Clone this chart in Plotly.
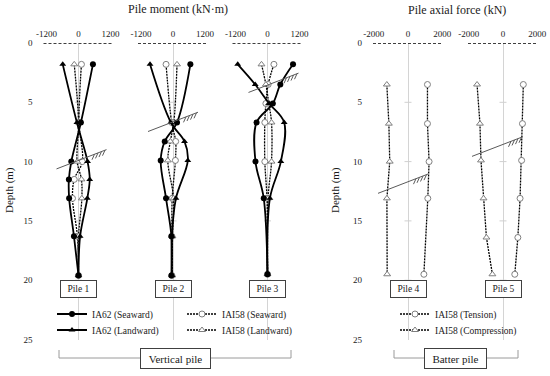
import plotly.graph_objects as go

# ---------------- data ----------------
moment_ticks = [-1200, 0, 1200]
moment_tick_text = ["-1200", "0", "1200"]
axial_ticks = [-2000, 0, 2000]
axial_tick_text = ["-2000", "0", "2000"]
depth_ticks = [0, 5, 10, 15, 20, 25]
depth_minor_ticks = [5, 10, 15, 20]

pile1_depth = [1.8, 6.7, 10.0, 11.5, 13.1, 16.3, 19.6]
pile1_ia62_sea = [540, 90, -270, -360, -350, -170, 0]
pile1_ia62_land = [-590, -60, 340, 420, 330, 60, 0]
pile1_iai58_sea = [110, 20, 140, -160, -225, -40, 0]
pile1_iai58_land = [-160, 0, -50, 110, 125, 0, 0]

pile2_depth = [1.8, 6.7, 8.3, 9.9, 13.1, 16.3, 19.6]
pile2_ia62_sea = [650, 150, -310, -460, -260, -60, -60]
pile2_ia62_land = [-860, -80, 430, 555, 110, -40, -40]
pile2_iai58_sea = [-260, -50, 100, 90, -30, -40, -40]
pile2_iai58_land = [150, 30, -100, -195, 20, -20, -30]

pile3_depth = [1.8, 3.5, 5.1, 6.7, 10.0, 13.1, 19.5]
pile3_ia62_sea = [955, 480, 200, -410, -450, -140, 0]
pile3_ia62_land = [-1115, -460, 60, 625, 500, 90, 0]
pile3_iai58_sea = [240, 25, -60, -100, -100, -20, 0]
pile3_iai58_land = [-225, -60, 50, 150, 150, 20, 0]

pile4_depth = [3.5, 6.8, 10.0, 13.1, 19.5]
pile4_tension = [1140, 1140, 1235, 1160, 930]
pile4_compression = [-1240, -1120, -1070, -1235, -1220]

pile5_depth = [3.5, 6.8, 9.9, 13.1, 16.4, 19.5]
pile5_tension = [1190, 1140, 1090, 1000, 870, 690]
pile5_compression = [-1520, -1350, -1290, -1140, -970, -620]

pile_names = ["Pile 1", "Pile 2", "Pile 3", "Pile 4", "Pile 5"]
seabed_depth = [9.9, 6.65, 3.55, 11.7, 8.55]

# ---------------- layout geometry ----------------
W, H = 550, 376
FONT = "Liberation Serif, Times New Roman, serif"
TXT = "#1a1a1a"


def px(x):
    return x / W


def py(y):
    return 1 - y / H


Y_TOP, Y_BOT = 43.0, 339.5
DEPTH_MAX = 25
PX_PER_M = (Y_BOT - Y_TOP) / DEPTH_MAX
panel_centers = [78.5, 173.0, 267.5, 408.0, 503.0]
HALF = 35.0
MOM_R = 1310
AX_R = 2050
ground_left_px = [-22, -25, -19, -30, -31]
ground_right_px = [28, 25, 31, 20, 20]
GROUND_SLOPE = 19.3 / 50.0

xnames = ["x", "x2", "x3", "x4", "x5"]
ynames = ["y", "y", "y", "y2", "y2"]

fig = go.Figure()

BLACK = "#000000"
GRAY_MK = "#7f7f7f"


def ia62(x, y, xa, ya, sym, name, show, leg):
    fig.add_trace(go.Scatter(
        x=x, y=y, xaxis=xa, yaxis=ya, mode="lines+markers", name=name,
        line=dict(color=BLACK, width=1.8, shape="spline", smoothing=1.0),
        marker=dict(symbol=sym, size=6, color=BLACK),
        showlegend=show, legend=leg, hoverinfo="x+y"))


def iai58(x, y, xa, ya, sym, name, show, leg, shape="spline"):
    fig.add_trace(go.Scatter(
        x=x, y=y, xaxis=xa, yaxis=ya, mode="lines+markers", name=name,
        line=dict(color=BLACK, width=1.3, dash="2px,1px", shape=shape, smoothing=1.0),
        marker=dict(symbol=sym, size=6, color="white", line=dict(color=GRAY_MK, width=1)),
        showlegend=show, legend=leg, hoverinfo="x+y"))


# small depth ticks on the zero lines
for i in range(5):
    fig.add_trace(go.Scatter(
        x=[0] * len(depth_minor_ticks), y=depth_minor_ticks, xaxis=xnames[i], yaxis=ynames[i],
        mode="markers", marker=dict(symbol="line-ew", size=5, line=dict(color="#d0d0d0", width=1)),
        showlegend=False, hoverinfo="skip"))

moment_piles = [
    (pile1_depth, pile1_ia62_sea, pile1_ia62_land, pile1_iai58_sea, pile1_iai58_land),
    (pile2_depth, pile2_ia62_sea, pile2_ia62_land, pile2_iai58_sea, pile2_iai58_land),
    (pile3_depth, pile3_ia62_sea, pile3_ia62_land, pile3_iai58_sea, pile3_iai58_land),
]
for i, (d, s62, l62, s58, l58) in enumerate(moment_piles):
    first = i == 0
    iai58(s58, d, xnames[i], ynames[i], "circle", "IAI58 (Seaward)", first, "legend2")
    iai58(l58, d, xnames[i], ynames[i], "triangle-up", "IAI58 (Landward)", first, "legend4")
    ia62(s62, d, xnames[i], ynames[i], "circle", "IA62 (Seaward)", first, "legend")
    ia62(l62, d, xnames[i], ynames[i], "triangle-up", "IA62 (Landward)", first, "legend3")

axial_piles = [
    (pile4_depth, pile4_tension, pile4_compression),
    (pile5_depth, pile5_tension, pile5_compression),
]
for j, (d, t, c) in enumerate(axial_piles):
    i = 3 + j
    first = j == 0
    iai58(t, d, xnames[i], ynames[i], "circle", "IAI58 (Tension)", first, "legend5", shape="linear")
    iai58(c, d, xnames[i], ynames[i], "triangle-up", "IAI58 (Compression)", first, "legend6", shape="linear")

# ---------------- axes ----------------
layout = dict(
    template="none",
    width=W, height=H, margin=dict(l=0, r=0, t=0, b=0, autoexpand=False),
    paper_bgcolor="white", plot_bgcolor="rgba(0,0,0,0)",
    font=dict(family=FONT, size=9, color=TXT),
    hovermode="closest",
)
for i, c in enumerate(panel_centers):
    key = "xaxis" if i == 0 else f"xaxis{i + 1}"
    is_m = i < 3
    R = MOM_R if is_m else AX_R
    layout[key] = dict(
        domain=[px(c - HALF), px(c + HALF)], range=[-R, R], side="top",
        anchor="y" if is_m else "y2",
        tickmode="array",
        tickvals=moment_ticks if is_m else axial_ticks,
        ticktext=moment_tick_text if is_m else axial_tick_text,
        ticks="", showgrid=False, showline=False, automargin=False,
        zeroline=True, zerolinecolor="#d4d4d4", zerolinewidth=1,
        tickfont=dict(family=FONT, size=9, color=TXT), ticklabelstandoff=3,
        fixedrange=True,
    )
for key, anc in (("yaxis", "x"), ("yaxis2", "x4")):
    layout[key] = dict(
        domain=[py(Y_BOT), py(Y_TOP)], range=[DEPTH_MAX, 0], anchor=anc,
        tickmode="array", tickvals=depth_ticks,
        ticks="", showgrid=False, showline=False, zeroline=False, automargin=False,
        tickfont=dict(family=FONT, size=9, color=TXT), ticklabelstandoff=10,
        fixedrange=True,
    )

# legends (one per entry so each sits exactly)
leg_font = dict(family=FONT, size=9.5, color=TXT)
legend_pos = {
    "legend": (52, 314), "legend2": (182, 314),
    "legend3": (52, 330), "legend4": (182, 330),
    "legend5": (395, 314), "legend6": (395, 330),
}
for key, (lx, ly) in legend_pos.items():
    layout[key] = dict(x=px(lx), y=py(ly - 14.5), xanchor="left", yanchor="top",
                       orientation="v", font=leg_font, bgcolor="rgba(0,0,0,0)",
                       borderwidth=0, itemclick=False, itemdoubleclick=False)

fig.update_layout(**layout)

# ---------------- shapes ----------------
shapes = []
GROUND_C = "#5a5a5a"
for i in range(5):
    xr, yr = xnames[i], ynames[i]
    u = (2 * (MOM_R if i < 3 else AX_R)) / (2 * HALF)  # data units per px
    shapes.append(dict(type="line", xref=f"{xr} domain", yref=yr, x0=0, x1=1, y0=0, y1=0,
                       line=dict(color=BLACK, width=1.3, dash="3px,2px")))

    def gd(dx):
        return seabed_depth[i] - dx * GROUND_SLOPE / PX_PER_M

    lx, rx = ground_left_px[i], ground_right_px[i]
    shapes.append(dict(type="line", xref=xr, yref=yr, x0=lx * u, x1=rx * u, y0=gd(lx), y1=gd(rx),
                       line=dict(color=GROUND_C, width=1)))
    for k in range(4):
        dx = rx - 1.5 - 3.5 * k
        shapes.append(dict(type="line", xref=xr, yref=yr,
                           x0=dx * u, y0=gd(dx), x1=(dx - 2.5) * u, y1=gd(dx) + 5.5 / PX_PER_M,
                           line=dict(color=GROUND_C, width=1)))

BR_C = "#9a9a9a"
for (xl, xrr) in ((59, 291), (394, 518)):
    shapes.append(dict(type="line", xref="paper", yref="paper", x0=px(xl), x1=px(xrr),
                       y0=py(358), y1=py(358), line=dict(color=BR_C, width=1)))
    for xx in (xl, xrr):
        shapes.append(dict(type="line", xref="paper", yref="paper", x0=px(xx), x1=px(xx),
                           y0=py(350), y1=py(358), line=dict(color=BR_C, width=1)))
fig.update_layout(shapes=shapes)

# ---------------- annotations ----------------
ann = []
ann.append(dict(text="Pile moment (kN·m)", x=px(178), y=py(9), xref="paper", yref="paper",
                xanchor="center", yanchor="middle",
                showarrow=False, font=dict(family=FONT, size=12, color=TXT)))
ann.append(dict(text="Pile axial force (kN)", x=px(457), y=py(10), xref="paper", yref="paper",
                xanchor="center", yanchor="middle",
                showarrow=False, font=dict(family=FONT, size=12, color=TXT)))
for xx in (9, 335):
    ann.append(dict(text="Depth (m)", x=px(xx), y=py(190), xref="paper", yref="paper",
                    xanchor="center", yanchor="middle",
                    textangle=-90, showarrow=False, font=dict(family=FONT, size=11, color=TXT)))
for i, nm in enumerate(pile_names):
    ann.append(dict(text=nm, x=0, y=20.75, xref=xnames[i], yref=ynames[i], showarrow=False,
                    xanchor="center", yanchor="middle",
                    font=dict(family=FONT, size=9.5, color=TXT), bgcolor="white",
                    bordercolor="#404040", borderwidth=1, borderpad=1, width=33, height=14))
for txt, cx, wd in (("Vertical pile", 175.5, 67), ("Batter pile", 455.5, 59)):
    ann.append(dict(text=txt, x=px(cx), y=py(358), xref="paper", yref="paper", showarrow=False,
                    xanchor="center", yanchor="middle",
                    font=dict(family=FONT, size=11, color=TXT), bgcolor="white",
                    bordercolor="#404040", borderwidth=1, borderpad=1, width=wd, height=17))
fig.update_layout(annotations=ann)

fig.write_html("out.html", post_script="document.body.style.margin='0px';",
               config={"displayModeBar": False})
